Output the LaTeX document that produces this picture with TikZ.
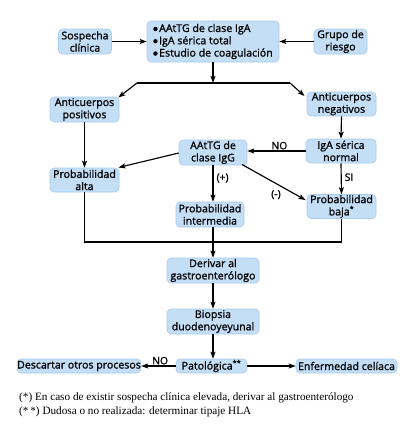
\documentclass[tikz,border=0pt]{standalone}
\usepackage{fontspec}
\setmainfont{Open Sans}[FakeBold=1.2]
\newfontfamily\notefont{Liberation Serif}
\usetikzlibrary{arrows.meta}
\definecolor{boxfill}{RGB}{196,222,246}
\definecolor{boxline}{RGB}{168,203,237}
\tikzset{
  bx/.style={draw=boxline, line width=0.6pt, fill=boxfill, rounded corners=4pt,
    inner sep=0pt, align=center, font=\fontsize{10.6}{12.3}\selectfont},
  ln/.style={line width=1.15pt},
  arr/.style={ln, -{Stealth[length=7pt,width=5pt,inset=1.5pt]}},
  lbl/.style={font=\fontsize{10.3}{12}\selectfont, inner sep=1pt},
  note/.style={anchor=base west, inner sep=0pt, font=\notefont\fontsize{11.2}{12}\selectfont}
}
\newcommand\bul{\tikz[baseline=0pt]\fill (0,3pt) circle (2.2pt);\hspace{1.5pt}}
\begin{document}
\begin{tikzpicture}[x=1pt,y=-1pt]
\useasboundingbox (0,0) rectangle (417,437);
% nodes
\node[bx, minimum width=132pt, minimum height=41pt, align=left] (top) at (213,41.5)
  {\bul AAtTG de clase IgA\\\bul IgA sérica total\\\bul Estudio de coagulación};
\node[bx, minimum width=53pt, minimum height=25pt] (sosp) at (85,41.5) {Sospecha\\clínica};
\node[bx, minimum width=53pt, minimum height=25pt] (grupo) at (340.5,41.5) {Grupo de\\riesgo};
\node[bx, minimum width=69pt, minimum height=25pt] (apos) at (84.5,109.5) {Anticuerpos\\positivos};
\node[bx, minimum width=69pt, minimum height=24pt] (aneg) at (341.5,104) {Anticuerpos\\negativos};
\node[bx, minimum width=70pt, minimum height=24pt] (iga) at (341,151) {IgA sérica\\normal};
\node[bx, minimum width=68pt, minimum height=25pt] (igg) at (213,152.5) {AAtTG de\\clase IgG};
\node[bx, minimum width=69pt, minimum height=24pt] (palta) at (84.5,180) {Probabilidad\\alta};
\node[bx, minimum width=69pt, minimum height=24pt] (pbaja) at (341.5,206.5) {Probabilidad\\baja\textsuperscript{*}};
\node[bx, minimum width=68pt, minimum height=25pt] (pint) at (210,214.5) {Probabilidad\\intermedia};
\node[bx, minimum width=92pt, minimum height=25pt] (deriv) at (213,270.5) {Derivar al\\gastroenterólogo};
\node[bx, minimum width=92pt, minimum height=25pt] (biop) at (213,321.5) {Biopsia\\duodenoyeyunal};
\node[bx, minimum width=71pt, minimum height=14pt] (pato) at (211.5,366) {Patológica\textsuperscript{**}};
\node[bx, minimum width=120pt, minimum height=14pt] (desc) at (79,366) {Descartar otros procesos};
\node[bx, minimum width=101pt, minimum height=14pt] (enf) at (346.5,366) {Enfermedad celíaca};
% coordinates
\coordinate (split) at (213,83);
\coordinate (sl) at (137,83);
\coordinate (sr) at (290,83);
\coordinate (taposr) at (118.3,97.5);
\coordinate (tanegl) at (304.5,96);
\coordinate (bl) at (84.5,242);
\coordinate (br) at (341.5,242);
\coordinate (mid) at (213,242);
% connectors
\draw[arr] (sosp.east) -- (top.west |- sosp.east);
\draw[arr] (grupo.west) -- (top.east |- grupo.west);
\draw[arr] (top.south) -- (split);
\draw[ln] (sl) -- (sr);
\draw[arr] (sl) -- (taposr);
\draw[arr] (sr) -- (tanegl);
\draw[arr] (apos.south) -- (palta.north);
\draw[arr] (aneg.south) -- (iga.north);
\draw[arr] (iga.west) -- node[lbl, above, pos=0.45] {NO} (igg.east |- iga.west);
\draw[arr] (iga.south) -- node[lbl, right, pos=0.45, xshift=2pt] {SI} (pbaja.north);
\draw[arr] (igg.west |- 0,153) -- (118.5,167.5);
\draw[arr] (igg.south) -- node[lbl, right, pos=0.35, xshift=2pt] {(+)} (igg.south |- pint.north);
\draw[arr] (242,164.5) -- node[lbl, below=5pt, pos=0.535] {(-)} (305.5,200);
\draw[ln] (palta.south) -- (bl) -- (br) -- (pbaja.south);
\draw[arr] (pint.south -| mid) -- (deriv.north);
\draw[arr] (deriv.south) -- (biop.north);
\draw[arr] (biop.south) -- (biop.south |- pato.north);
\draw[arr] (pato.west) -- node[lbl, above, pos=0.45] {NO} (desc.east);
\draw[arr] (pato.east) -- (enf.west);
% notes
\node[note] (n1) at (19,400.5)
  {(*) En caso de existir sospecha clínica elevada, derivar al gastroenterólogo};
\node[note] (n2) at (19,414)
  {(*\,*) Dudosa o no realizada: determinar tipaje HLA};
\end{tikzpicture}
\end{document}
